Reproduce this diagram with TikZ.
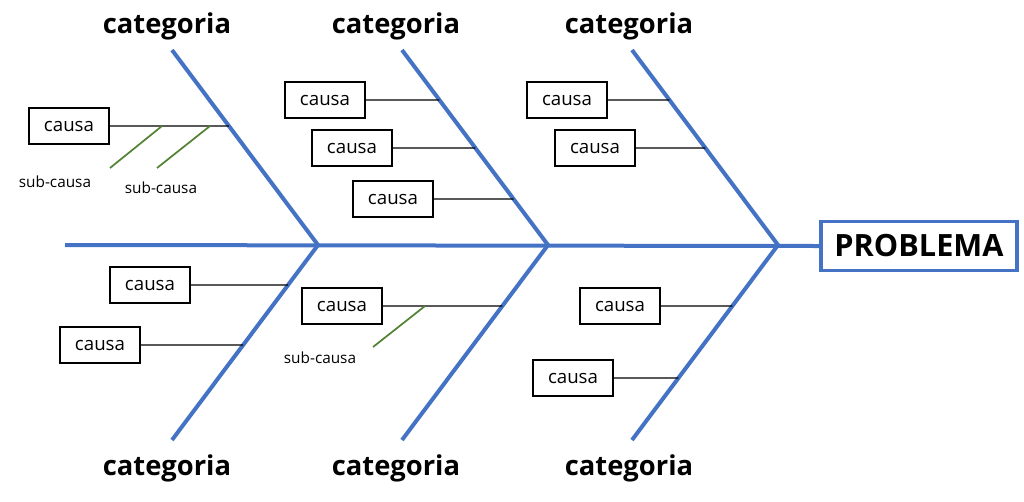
\documentclass[tikz,border=0pt]{standalone}
\usetikzlibrary{calc}
\usepackage{fontspec}
\setmainfont{Open Sans}
\definecolor{bone}{RGB}{68,114,196}
\definecolor{sub}{RGB}{84,130,53}
\begin{document}
\begin{tikzpicture}[x=0.75pt,y=-0.75pt,
  bonel/.style={draw=bone,line width=3pt},
  cat/.style={font=\bfseries\fontsize{20.5}{24}\selectfont,inner sep=0pt},
  cbox/.style={draw,line width=0.9pt,minimum width=60pt,minimum height=27pt,inner sep=0pt,font=\fontsize{14}{16}\selectfont},
  cl/.style={line width=1.1pt},
  sl/.style={draw=sub,line width=1.3pt},
  sublab/.style={font=\fontsize{11.5}{13}\selectfont,inner sep=0pt}]
\useasboundingbox (0,0) rectangle (1024,501);
% spine
\node[draw=bone,line width=2.5pt,minimum width=147pt,minimum height=37pt,inner sep=0pt,font=\bfseries\fontsize{23}{26}\selectfont] (prob) at (919,246) {PROBLEMA};
\coordinate (s0) at (65,245);
\draw[bonel] (s0) -- (prob.west);
\coordinate (j1) at (318,245); \coordinate (j2) at (548,245); \coordinate (j3) at (778,245);
\coordinate (t1) at (172,50); \coordinate (t2) at (402,50); \coordinate (t3) at (632,50);
\coordinate (b1) at (172,440); \coordinate (b2) at (402,440); \coordinate (b3) at (632,440);
\foreach \i in {1,2,3}{\draw[bonel] (t\i) -- (j\i) -- (b\i);}
% categories
\node[cat] (c1) at (167,26) {categoria};
\node[cat] (c2) at (396,26) {categoria};
\node[cat] (c3) at (629,26) {categoria};
\node[cat] (c4) at (167,468) {categoria};
\node[cat] (c5) at (396,468) {categoria};
\node[cat] (c6) at (629,468) {categoria};
% top-left
\node[cbox] (a1) at (69,126) {causa};
\coordinate (e1) at ($(t1)!{(126-50)/195}!(j1)$);
\draw[cl] (a1.east) -- (e1);
\coordinate (g1) at (162,126); \coordinate (g2) at (210,126);
\draw[sl] (g1) -- (110,168);
\draw[sl] (g2) -- (157,168);
\node[sublab] (sl1) at (55,182) {sub-causa};
\node[sublab] (sl2) at (161,188) {sub-causa};
% top-middle
\node[cbox] (a2) at (325,100) {causa};
\node[cbox] (a3) at (352,148) {causa};
\node[cbox] (a4) at (393,199) {causa};
\draw[cl] (a2.east) -- ($(t2)!{50/195}!(j2)$);
\draw[cl] (a3.east) -- ($(t2)!{98/195}!(j2)$);
\draw[cl] (a4.east) -- ($(t2)!{149/195}!(j2)$);
% top-right
\node[cbox] (a5) at (567,100) {causa};
\node[cbox] (a6) at (595,148) {causa};
\draw[cl] (a5.east) -- ($(t3)!{50/195}!(j3)$);
\draw[cl] (a6.east) -- ($(t3)!{98/195}!(j3)$);
% bottom-left
\node[cbox] (a7) at (150,285) {causa};
\node[cbox] (a8) at (100,345) {causa};
\draw[cl] (a7.east) -- ($(j1)!{40/195}!(b1)$);
\draw[cl] (a8.east) -- ($(j1)!{100/195}!(b1)$);
% bottom-middle
\node[cbox] (a9) at (342,306) {causa};
\draw[cl] (a9.east) -- ($(j2)!{61/195}!(b2)$);
\coordinate (g3) at (425,306);
\draw[sl] (g3) -- (373,347);
\node[sublab] (sl3) at (320,358) {sub-causa};
% bottom-right
\node[cbox] (a10) at (620,306) {causa};
\node[cbox] (a11) at (573,378) {causa};
\draw[cl] (a10.east) -- ($(j3)!{61/195}!(b3)$);
\draw[cl] (a11.east) -- ($(j3)!{133/195}!(b3)$);
\end{tikzpicture}
\end{document}
